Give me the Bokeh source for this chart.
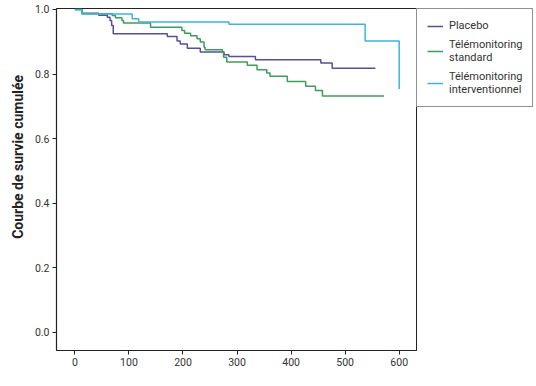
from bokeh.plotting import figure
from bokeh.models import Legend, LegendItem, FixedTicker, NumeralTickFormatter
from bokeh.embed import file_html
from bokeh.resources import INLINE

# ---- data ----
placebo_t = [0, 13, 44, 60, 65, 68, 71, 171, 189, 195, 208, 232, 276, 285, 334, 455, 476, 556]
placebo_s = [1.0, 0.988, 0.982, 0.976, 0.966, 0.95, 0.925, 0.916, 0.902, 0.893, 0.88, 0.868, 0.86, 0.854, 0.844, 0.834, 0.818, 0.818]

standard_t = [0, 13, 69, 75, 87, 90, 140, 198, 203, 214, 226, 232, 239, 241, 273, 275, 281, 319, 337, 355, 361, 393, 427, 445, 458, 572]
standard_s = [1.0, 0.987, 0.981, 0.974, 0.966, 0.958, 0.945, 0.935, 0.926, 0.919, 0.909, 0.899, 0.883, 0.875, 0.868, 0.852, 0.837, 0.827, 0.813, 0.803, 0.793, 0.777, 0.762, 0.749, 0.732, 0.732]

interv_t = [0, 13, 106, 118, 285, 537, 600]
interv_s = [1.0, 0.986, 0.971, 0.961, 0.954, 0.902, 0.754]

labels = ["Placebo", "Télémonitoring\nstandard", "Télémonitoring\ninterventionnel"]
colors = ["#5a4d9c", "#3c9e5a", "#3db4e0"]
x_ticks = [0, 100, 200, 300, 400, 500, 600]
y_ticks = [0.0, 0.2, 0.4, 0.6, 0.8, 1.0]
y_title = "Courbe de survie cumulée"

FONT = "Roboto"

p = figure(frame_width=360, frame_height=342, output_backend="svg", toolbar_location=None,
           x_range=(-34, 632), y_range=(-0.056, 1.003),
           min_border_left=56, min_border_right=120, min_border_top=8, min_border_bottom=36)
p.background_fill_color = "white"
p.border_fill_color = "white"
p.outline_line_color = "#222222"
p.outline_line_width = 1
p.grid.visible = False

for ax in (p.xaxis[0], p.yaxis[0]):
    ax.axis_line_color = "#222222"
    ax.axis_line_width = 1.2
    ax.major_tick_line_color = "#222222"
    ax.major_tick_out = 4
    ax.major_tick_in = 0
    ax.minor_tick_line_color = None
    ax.major_label_text_font = FONT
    ax.major_label_text_font_size = "10.5px"
    ax.major_label_text_color = "#333333"
    ax.major_label_standoff = 3

p.xaxis.ticker = FixedTicker(ticks=x_ticks)
p.yaxis.ticker = FixedTicker(ticks=y_ticks)
p.yaxis.formatter = NumeralTickFormatter(format="0.0")

# y-axis title (leading no-break spaces shift the visible text upward as in the reference)
p.yaxis.axis_label = "\u00a0" * 13 + y_title
p.yaxis.axis_label_text_font = FONT
p.yaxis.axis_label_text_font_size = "14px"
p.yaxis.axis_label_text_font_style = "bold"
p.yaxis.axis_label_text_color = "#222222"
p.yaxis.axis_label_standoff = 6

r1 = p.step(placebo_t, placebo_s, mode="after", line_color=colors[0], line_width=1.5)
r2 = p.step(standard_t, standard_s, mode="after", line_color=colors[1], line_width=1.5)
r3 = p.step(interv_t, interv_s, mode="after", line_color=colors[2], line_width=1.5)

legend = Legend(items=[LegendItem(label=labels[0], renderers=[r1]),
                       LegendItem(label=labels[1], renderers=[r2]),
                       LegendItem(label=labels[2], renderers=[r3])],
                location="top_left", margin=0, padding=10, spacing=6,
                glyph_width=16, glyph_height=12, label_standoff=6,
                label_text_font=FONT, label_text_font_size="11px",
                label_text_color="#333333",
                border_line_color="#222222", border_line_width=1,
                background_fill_color="white", background_fill_alpha=1.0)
p.add_layout(legend, "right")

open("out.html", "w").write(file_html(p, INLINE))
